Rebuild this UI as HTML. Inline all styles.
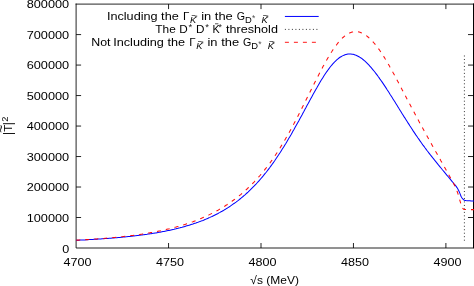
<!DOCTYPE html>
<html><head><meta charset="utf-8"><title>plot</title>
<style>
html,body{margin:0;padding:0;background:#fff;}
svg{display:block;}
text{font-family:"Liberation Sans",sans-serif;fill:#000;font-size:11.6px;}
.s{font-size:9.3px;}
.i{font-style:italic;}
</style></head>
<body>
<svg width="474" height="286" viewBox="0 0 474 286">
<defs><filter id="gr" x="0" y="0" width="474" height="286" filterUnits="userSpaceOnUse" color-interpolation-filters="sRGB"><feColorMatrix type="saturate" values="0"/></filter></defs>
<rect x="0" y="0" width="474" height="286" fill="#fff"/>
<g stroke="#000" stroke-opacity="0.86" stroke-width="1" fill="none">
<path d="M76.10 3.60 V248.00 H474.5 M75.60 4.10 H474.5"/>
<path d="M76.10 217.51 h5.0 M473 217.51 h-5.0"/>
<path d="M76.10 187.03 h5.0 M473 187.03 h-5.0"/>
<path d="M76.10 156.54 h5.0 M473 156.54 h-5.0"/>
<path d="M76.10 126.05 h5.0 M473 126.05 h-5.0"/>
<path d="M76.10 95.56 h5.0 M473 95.56 h-5.0"/>
<path d="M76.10 65.07 h5.0 M473 65.07 h-5.0"/>
<path d="M76.10 34.59 h5.0 M473 34.59 h-5.0"/>
<path d="M168.55 248.00 v-5.0 M168.55 4.10 v5.0"/>
<path d="M261.00 248.00 v-5.0 M261.00 4.10 v5.0"/>
<path d="M353.45 248.00 v-5.0 M353.45 4.10 v5.0"/>
<path d="M445.90 248.00 v-5.0 M445.90 4.10 v5.0"/>
</g>
<line x1="473.5" y1="3.5" x2="473.5" y2="248.2" stroke="#000" stroke-width="1"/>
<line x1="464.4" y1="55.5" x2="464.4" y2="241" stroke="#000" stroke-opacity="0.8" stroke-width="1" stroke-dasharray="1 2.475"/>
<polyline points="76.0,240.3 77.0,240.2 78.0,240.2 79.0,240.2 80.0,240.1 81.0,240.1 82.0,240.0 83.0,240.0 84.0,239.9 85.0,239.9 86.0,239.8 87.0,239.7 88.0,239.7 89.0,239.6 90.0,239.6 91.0,239.5 92.0,239.5 93.0,239.4 94.0,239.3 95.0,239.3 96.0,239.2 97.0,239.2 98.0,239.1 99.0,239.0 100.0,239.0 101.0,238.9 102.0,238.8 103.0,238.8 104.0,238.7 105.0,238.6 106.0,238.6 107.0,238.5 108.0,238.4 109.0,238.3 110.0,238.2 111.0,238.2 112.0,238.1 113.0,238.0 114.0,237.9 115.0,237.8 116.0,237.8 117.0,237.7 118.0,237.6 119.0,237.5 120.0,237.4 121.0,237.3 122.0,237.2 123.0,237.1 124.0,237.0 125.0,236.9 126.0,236.8 127.0,236.7 128.0,236.6 129.0,236.5 130.0,236.4 131.0,236.3 132.0,236.2 133.0,236.1 134.0,236.0 135.0,235.8 136.0,235.7 137.0,235.6 138.0,235.5 139.0,235.3 140.0,235.2 141.0,235.1 142.0,235.0 143.0,234.8 144.0,234.7 145.0,234.5 146.0,234.4 147.0,234.3 148.0,234.1 149.0,234.0 150.0,233.8 151.0,233.7 152.0,233.5 153.0,233.3 154.0,233.2 155.0,233.0 156.0,232.9 157.0,232.7 158.0,232.5 159.0,232.3 160.0,232.2 161.0,232.0 162.0,231.8 163.0,231.6 164.0,231.4 165.0,231.2 166.0,231.0 167.0,230.8 168.0,230.6 169.0,230.4 170.0,230.2 171.0,229.9 172.0,229.7 173.0,229.5 174.0,229.3 175.0,229.0 176.0,228.8 177.0,228.5 178.0,228.3 179.0,228.0 180.0,227.8 181.0,227.5 182.0,227.3 183.0,227.0 184.0,226.7 185.0,226.4 186.0,226.1 187.0,225.8 188.0,225.6 189.0,225.2 190.0,224.9 191.0,224.6 192.0,224.3 193.0,224.0 194.0,223.6 195.0,223.3 196.0,223.0 197.0,222.6 198.0,222.3 199.0,221.9 200.0,221.5 201.0,221.1 202.0,220.7 203.0,220.4 204.0,220.0 205.0,219.5 206.0,219.1 207.0,218.7 208.0,218.3 209.0,217.8 210.0,217.4 211.0,216.9 212.0,216.5 213.0,216.0 214.0,215.5 215.0,215.0 216.0,214.5 217.0,214.0 218.0,213.5 219.0,212.9 220.0,212.4 221.0,211.8 222.0,211.3 223.0,210.7 224.0,210.1 225.0,209.5 226.0,208.9 227.0,208.3 228.0,207.6 229.0,207.0 230.0,206.3 231.0,205.6 232.0,204.9 233.0,204.2 234.0,203.5 235.0,202.8 236.0,202.1 237.0,201.3 238.0,200.6 239.0,199.8 240.0,199.0 241.0,198.2 242.0,197.3 243.0,196.5 244.0,195.6 245.0,194.8 246.0,193.9 247.0,193.0 248.0,192.1 249.0,191.1 250.0,190.2 251.0,189.2 252.0,188.2 253.0,187.2 254.0,186.2 255.0,185.1 256.0,184.1 257.0,183.0 258.0,181.9 259.0,180.8 260.0,179.7 261.0,178.5 262.0,177.3 263.0,176.2 264.0,174.9 265.0,173.7 266.0,172.5 267.0,171.2 268.0,169.9 269.0,168.6 270.0,167.3 271.0,165.9 272.0,164.5 273.0,163.1 274.0,161.7 275.0,160.3 276.0,158.8 277.0,157.3 278.0,155.8 279.0,154.3 280.0,152.8 281.0,151.2 282.0,149.6 283.0,148.0 284.0,146.4 285.0,144.8 286.0,143.2 287.0,141.5 288.0,139.8 289.0,138.1 290.0,136.4 291.0,134.7 292.0,132.9 293.0,131.1 294.0,129.4 295.0,127.6 296.0,125.8 297.0,124.0 298.0,122.2 299.0,120.4 300.0,118.5 301.0,116.7 302.0,114.9 303.0,113.0 304.0,111.2 305.0,109.3 306.0,107.5 307.0,105.6 308.0,103.8 309.0,101.9 310.0,100.1 311.0,98.2 312.0,96.4 313.0,94.6 314.0,92.8 315.0,91.0 316.0,89.2 317.0,87.5 318.0,85.7 319.0,84.0 320.0,82.3 321.0,80.6 322.0,79.0 323.0,77.4 324.0,75.8 325.0,74.3 326.0,72.8 327.0,71.4 328.0,70.0 329.0,68.6 330.0,67.3 331.0,66.0 332.0,64.8 333.0,63.7 334.0,62.6 335.0,61.5 336.0,60.6 337.0,59.7 338.0,58.8 339.0,58.0 340.0,57.3 341.0,56.7 342.0,56.1 343.0,55.6 344.0,55.2 345.0,54.8 346.0,54.5 347.0,54.3 348.0,54.1 349.0,54.0 350.0,54.0 351.0,54.1 352.0,54.2 353.0,54.3 354.0,54.6 355.0,54.9 356.0,55.3 357.0,55.7 358.0,56.2 359.0,56.8 360.0,57.4 361.0,58.0 362.0,58.7 363.0,59.5 364.0,60.3 365.0,61.2 366.0,62.1 367.0,63.1 368.0,64.1 369.0,65.2 370.0,66.3 371.0,67.4 372.0,68.6 373.0,69.8 374.0,71.0 375.0,72.3 376.0,73.6 377.0,74.9 378.0,76.3 379.0,77.6 380.0,79.1 381.0,80.5 382.0,81.9 383.0,83.4 384.0,84.9 385.0,86.4 386.0,87.9 387.0,89.5 388.0,91.0 389.0,92.6 390.0,94.2 391.0,95.7 392.0,97.3 393.0,98.9 394.0,100.5 395.0,102.1 396.0,103.7 397.0,105.3 398.0,106.9 399.0,108.6 400.0,110.2 401.0,111.8 402.0,113.4 403.0,115.0 404.0,116.6 405.0,118.1 406.0,119.7 407.0,121.3 408.0,122.9 409.0,124.4 410.0,126.0 411.0,127.5 412.0,129.0 413.0,130.6 414.0,132.1 415.0,133.6 416.0,135.1 417.0,136.5 418.0,138.0 419.0,139.4 420.0,140.9 421.0,142.3 422.0,143.7 423.0,145.1 424.0,146.4 425.0,147.8 426.0,149.1 427.0,150.5 428.0,151.8 429.0,153.1 430.0,154.4 431.0,155.6 432.0,156.9 433.0,158.2 434.0,159.4 435.0,160.7 436.0,161.9 437.0,163.1 438.0,164.4 439.0,165.6 440.0,166.8 441.0,168.0 442.0,169.3 443.0,170.5 444.0,171.7 445.0,172.9 446.0,174.1 447.0,175.3 448.0,176.5 449.0,177.7 450.0,178.9 451.0,180.1 452.0,181.3 453.0,182.5 454.0,183.8 455.0,184.9 456.0,186.1 457.0,187.6 458.0,189.2 459.0,191.2 460.0,193.6 461.0,196.2 462.0,198.0 463.0,199.2 464.0,200.0 465.0,200.4 466.0,200.6 467.0,200.7 468.0,200.8 469.0,200.8 470.0,200.8 471.0,200.9 472.0,200.9 473.0,200.9 474.0,200.9" fill="none" stroke="#0000ff" stroke-width="1.02"/>
<polyline points="76.0,240.2 77.0,240.1 78.0,240.1 79.0,240.0 80.0,240.0 81.0,239.9 82.0,239.9 83.0,239.8 84.0,239.8 85.0,239.7 86.0,239.6 87.0,239.6 88.0,239.5 89.0,239.4 90.0,239.4 91.0,239.3 92.0,239.2 93.0,239.2 94.0,239.1 95.0,239.0 96.0,239.0 97.0,238.9 98.0,238.8 99.0,238.7 100.0,238.7 101.0,238.6 102.0,238.5 103.0,238.4 104.0,238.4 105.0,238.3 106.0,238.2 107.0,238.1 108.0,238.0 109.0,237.9 110.0,237.8 111.0,237.8 112.0,237.7 113.0,237.6 114.0,237.5 115.0,237.4 116.0,237.3 117.0,237.2 118.0,237.1 119.0,237.0 120.0,236.9 121.0,236.8 122.0,236.7 123.0,236.6 124.0,236.4 125.0,236.3 126.0,236.2 127.0,236.1 128.0,236.0 129.0,235.9 130.0,235.7 131.0,235.6 132.0,235.5 133.0,235.4 134.0,235.2 135.0,235.1 136.0,235.0 137.0,234.8 138.0,234.7 139.0,234.5 140.0,234.4 141.0,234.2 142.0,234.1 143.0,233.9 144.0,233.8 145.0,233.6 146.0,233.5 147.0,233.3 148.0,233.1 149.0,233.0 150.0,232.8 151.0,232.6 152.0,232.4 153.0,232.3 154.0,232.1 155.0,231.9 156.0,231.7 157.0,231.5 158.0,231.3 159.0,231.1 160.0,230.9 161.0,230.7 162.0,230.5 163.0,230.3 164.0,230.0 165.0,229.8 166.0,229.6 167.0,229.3 168.0,229.1 169.0,228.9 170.0,228.6 171.0,228.4 172.0,228.1 173.0,227.9 174.0,227.6 175.0,227.3 176.0,227.1 177.0,226.8 178.0,226.5 179.0,226.2 180.0,225.9 181.0,225.6 182.0,225.3 183.0,225.0 184.0,224.7 185.0,224.4 186.0,224.1 187.0,223.7 188.0,223.4 189.0,223.1 190.0,222.7 191.0,222.4 192.0,222.0 193.0,221.7 194.0,221.3 195.0,220.9 196.0,220.5 197.0,220.1 198.0,219.7 199.0,219.3 200.0,218.9 201.0,218.5 202.0,218.1 203.0,217.6 204.0,217.2 205.0,216.8 206.0,216.3 207.0,215.8 208.0,215.4 209.0,214.9 210.0,214.4 211.0,213.9 212.0,213.4 213.0,212.9 214.0,212.3 215.0,211.8 216.0,211.3 217.0,210.7 218.0,210.2 219.0,209.6 220.0,209.0 221.0,208.4 222.0,207.8 223.0,207.2 224.0,206.6 225.0,206.0 226.0,205.3 227.0,204.7 228.0,204.0 229.0,203.3 230.0,202.6 231.0,201.9 232.0,201.2 233.0,200.5 234.0,199.8 235.0,199.0 236.0,198.3 237.0,197.5 238.0,196.7 239.0,195.9 240.0,195.1 241.0,194.3 242.0,193.4 243.0,192.5 244.0,191.7 245.0,190.8 246.0,189.9 247.0,189.0 248.0,188.0 249.0,187.1 250.0,186.1 251.0,185.1 252.0,184.1 253.0,183.1 254.0,182.1 255.0,181.0 256.0,180.0 257.0,178.9 258.0,177.8 259.0,176.6 260.0,175.5 261.0,174.3 262.0,173.1 263.0,171.9 264.0,170.7 265.0,169.4 266.0,168.2 267.0,166.9 268.0,165.6 269.0,164.2 270.0,162.9 271.0,161.5 272.0,160.1 273.0,158.7 274.0,157.2 275.0,155.7 276.0,154.2 277.0,152.7 278.0,151.2 279.0,149.6 280.0,148.0 281.0,146.4 282.0,144.8 283.0,143.1 284.0,141.4 285.0,139.7 286.0,138.0 287.0,136.3 288.0,134.5 289.0,132.7 290.0,130.9 291.0,129.1 292.0,127.3 293.0,125.4 294.0,123.6 295.0,121.7 296.0,119.8 297.0,117.9 298.0,115.9 299.0,114.0 300.0,112.0 301.0,110.1 302.0,108.1 303.0,106.1 304.0,104.1 305.0,102.1 306.0,100.1 307.0,98.1 308.0,96.1 309.0,94.1 310.0,92.1 311.0,90.1 312.0,88.1 313.0,86.1 314.0,84.1 315.0,82.1 316.0,80.1 317.0,78.1 318.0,76.2 319.0,74.2 320.0,72.3 321.0,70.4 322.0,68.5 323.0,66.6 324.0,64.8 325.0,63.0 326.0,61.2 327.0,59.4 328.0,57.7 329.0,56.1 330.0,54.4 331.0,52.8 332.0,51.3 333.0,49.7 334.0,48.3 335.0,46.9 336.0,45.5 337.0,44.2 338.0,42.9 339.0,41.7 340.0,40.6 341.0,39.5 342.0,38.5 343.0,37.5 344.0,36.6 345.0,35.8 346.0,35.1 347.0,34.4 348.0,33.8 349.0,33.3 350.0,32.8 351.0,32.4 352.0,32.1 353.0,31.9 354.0,31.7 355.0,31.6 356.0,31.7 357.0,31.7 358.0,31.8 359.0,32.0 360.0,32.3 361.0,32.7 362.0,33.1 363.0,33.6 364.0,34.1 365.0,34.7 366.0,35.4 367.0,36.2 368.0,37.0 369.0,37.8 370.0,38.7 371.0,39.7 372.0,40.7 373.0,41.8 374.0,43.0 375.0,44.2 376.0,45.4 377.0,46.7 378.0,48.0 379.0,49.4 380.0,50.8 381.0,52.3 382.0,53.8 383.0,55.4 384.0,56.9 385.0,58.6 386.0,60.2 387.0,61.9 388.0,63.6 389.0,65.3 390.0,67.1 391.0,68.8 392.0,70.6 393.0,72.5 394.0,74.3 395.0,76.1 396.0,78.0 397.0,79.9 398.0,81.8 399.0,83.7 400.0,85.6 401.0,87.5 402.0,89.4 403.0,91.3 404.0,93.2 405.0,95.1 406.0,97.0 407.0,98.9 408.0,100.8 409.0,102.7 410.0,104.6 411.0,106.5 412.0,108.4 413.0,110.3 414.0,112.1 415.0,114.0 416.0,115.9 417.0,117.7 418.0,119.6 419.0,121.4 420.0,123.3 421.0,125.1 422.0,126.9 423.0,128.7 424.0,130.6 425.0,132.4 426.0,134.2 427.0,136.0 428.0,137.8 429.0,139.6 430.0,141.4 431.0,143.2 432.0,145.0 433.0,146.8 434.0,148.5 435.0,150.3 436.0,152.1 437.0,153.8 438.0,155.6 439.0,157.4 440.0,159.1 441.0,160.9 442.0,162.6 443.0,164.4 444.0,166.2 445.0,168.0 446.0,169.8 447.0,171.6 448.0,173.4 449.0,175.2 450.0,177.0 451.0,178.8 452.0,180.6 453.0,182.3 454.0,184.2 455.0,186.3 456.0,188.5 457.0,191.0 458.0,193.9 459.0,197.3 460.0,200.8 461.0,204.3 462.0,207.1 463.0,208.7 464.0,209.4 465.0,209.5 466.0,209.6 467.0,209.6 468.0,209.6 469.0,209.6 470.0,209.6 471.0,209.6 472.0,209.6 473.0,209.6 474.0,209.6" fill="none" stroke="#ff0000" stroke-width="1.05" stroke-dasharray="4 5.03" stroke-dashoffset="-0.3" stroke-opacity="0.95"/>
<line x1="284.9" y1="16.45" x2="318.7" y2="16.45" stroke="#0000ff" stroke-width="1"/>
<line x1="284.9" y1="29.4" x2="318.7" y2="29.4" stroke="#000" stroke-opacity="0.8" stroke-width="1" stroke-dasharray="1 2.5"/>
<line x1="284.9" y1="42.3" x2="318.7" y2="42.3" stroke="#ff0000" stroke-opacity="0.9" stroke-width="1" stroke-dasharray="4 5"/>
<g filter="url(#gr)">
<text x="62.20" y="252.70" textLength="7.00" lengthAdjust="spacingAndGlyphs">0</text>
<text x="26.70" y="221.81" textLength="42.50" lengthAdjust="spacingAndGlyphs">100000</text>
<text x="26.70" y="191.33" textLength="42.50" lengthAdjust="spacingAndGlyphs">200000</text>
<text x="26.70" y="160.84" textLength="42.50" lengthAdjust="spacingAndGlyphs">300000</text>
<text x="26.70" y="130.35" textLength="42.50" lengthAdjust="spacingAndGlyphs">400000</text>
<text x="26.70" y="99.86" textLength="42.50" lengthAdjust="spacingAndGlyphs">500000</text>
<text x="26.70" y="69.37" textLength="42.50" lengthAdjust="spacingAndGlyphs">600000</text>
<text x="26.70" y="38.89" textLength="42.50" lengthAdjust="spacingAndGlyphs">700000</text>
<text x="26.70" y="8.40" textLength="42.50" lengthAdjust="spacingAndGlyphs">800000</text>
<text x="63.60" y="265.60" textLength="27.99" lengthAdjust="spacingAndGlyphs">4700</text>
<text x="156.05" y="265.60" textLength="27.99" lengthAdjust="spacingAndGlyphs">4750</text>
<text x="248.50" y="265.60" textLength="27.99" lengthAdjust="spacingAndGlyphs">4800</text>
<text x="340.95" y="265.60" textLength="27.99" lengthAdjust="spacingAndGlyphs">4850</text>
<text x="433.40" y="265.60" textLength="27.99" lengthAdjust="spacingAndGlyphs">4900</text>
<text x="250.30" y="284.40" textLength="48.60" lengthAdjust="spacingAndGlyphs">&#8730;s (MeV)</text>
<g transform="translate(12.2 135.25) rotate(-90)">
<text x="0.31" y="0.15" style="font-size:11.9px">|</text>
<text x="3.5" y="0">T</text>
<text x="9.91" y="0.15" style="font-size:11.9px">|</text>
<text x="2.6" y="-7.2" textLength="8.2" lengthAdjust="spacingAndGlyphs">~</text>
<text class="s" x="13.6" y="-4.3">2</text>
</g>
<text x="106.90" y="20.30" textLength="71.83" lengthAdjust="spacingAndGlyphs">Including the</text>
<text x="183.00" y="20.30">&#915;</text>
<text class="s i" x="190.00" y="22.60">K</text>
<path d="M191.70 15.50 h3.6" stroke="#000" stroke-opacity="0.75" stroke-width="0.8" fill="none"/>
<text x="194.40" y="20.00" style="font-size:8px" fill-opacity="0.75">*</text>
<text x="201.20" y="20.30" textLength="31.58" lengthAdjust="spacingAndGlyphs">in the</text>
<text x="236.70" y="20.30" textLength="8.3" lengthAdjust="spacingAndGlyphs">G</text>
<text class="s" x="245.00" y="22.60" textLength="6.78" lengthAdjust="spacingAndGlyphs">D</text>
<text x="252.00" y="20.80" style="font-size:8.5px" fill-opacity="0.7">*</text>
<text class="s i" x="261.40" y="22.60">K</text>
<path d="M263.10 15.50 h3.6" stroke="#000" stroke-opacity="0.75" stroke-width="0.8" fill="none"/>
<text x="265.80" y="20.00" style="font-size:8px" fill-opacity="0.75">*</text>
<text x="91.20" y="46.30" textLength="19.27" lengthAdjust="spacingAndGlyphs">Not</text>
<text x="113.20" y="46.30" textLength="71.83" lengthAdjust="spacingAndGlyphs">Including the</text>
<text x="189.30" y="46.30">&#915;</text>
<text class="s i" x="196.30" y="48.60">K</text>
<path d="M198.00 41.50 h3.6" stroke="#000" stroke-opacity="0.75" stroke-width="0.8" fill="none"/>
<text x="200.70" y="46.00" style="font-size:8px" fill-opacity="0.75">*</text>
<text x="207.50" y="46.30" textLength="31.58" lengthAdjust="spacingAndGlyphs">in the</text>
<text x="243.00" y="46.30" textLength="8.3" lengthAdjust="spacingAndGlyphs">G</text>
<text class="s" x="251.30" y="48.60" textLength="6.78" lengthAdjust="spacingAndGlyphs">D</text>
<text x="258.30" y="46.80" style="font-size:8.5px" fill-opacity="0.7">*</text>
<text class="s i" x="267.70" y="48.60">K</text>
<path d="M269.40 41.50 h3.6" stroke="#000" stroke-opacity="0.75" stroke-width="0.8" fill="none"/>
<text x="272.10" y="46.00" style="font-size:8px" fill-opacity="0.75">*</text>
<text x="155.30" y="33.30" textLength="20.46" lengthAdjust="spacingAndGlyphs">The</text>
<text x="179.30" y="33.30" textLength="8.47" lengthAdjust="spacingAndGlyphs">D</text>
<text x="188.55" y="30.00" style="font-size:9.6px" fill-opacity="0.92">*</text>
<text x="195.90" y="33.30" textLength="8.47" lengthAdjust="spacingAndGlyphs">D</text>
<text x="205.15" y="30.00" style="font-size:9.6px" fill-opacity="0.92">*</text>
<text x="212.40" y="33.30" textLength="7.21" lengthAdjust="spacingAndGlyphs">K</text>
<path d="M215 23.8 h3.4" stroke="#000" stroke-opacity="0.75" stroke-width="0.9" fill="none"/>
<text x="218.20" y="29.60" style="font-size:9.6px" fill-opacity="0.92">*</text>
<text x="226.10" y="33.30" textLength="51.80" lengthAdjust="spacingAndGlyphs">threshold</text>
</g>
</svg>
</body></html>
